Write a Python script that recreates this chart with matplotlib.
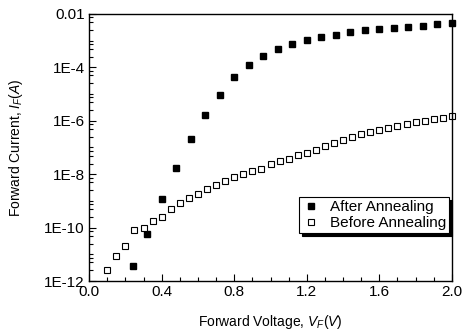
import numpy as np
import matplotlib
matplotlib.use('Agg')
import matplotlib.pyplot as plt
from matplotlib.ticker import FixedLocator, MultipleLocator, NullFormatter

plt.rcParams['font.family'] = ['Liberation Sans', 'DejaVu Sans']
plt.rcParams['mathtext.fontset'] = 'custom'
plt.rcParams['mathtext.rm'] = 'Liberation Sans'
plt.rcParams['mathtext.it'] = 'Liberation Sans:italic'

# after annealing (filled squares)
v_after = [0.24, 0.32, 0.40, 0.48, 0.56, 0.64, 0.72, 0.80, 0.88, 0.96, 1.04, 1.12,
           1.20, 1.28, 1.36, 1.44, 1.52, 1.60, 1.68, 1.76, 1.84, 1.92, 2.00]
i_after = [3.6e-12, 6e-11, 1.2e-9, 1.7e-8, 2.1e-7, 1.66e-6, 9.3e-6, 4.4e-5, 1.2e-4,
           2.7e-4, 4.9e-4, 7.5e-4, 1.07e-3, 1.4e-3, 1.6e-3, 2.1e-3, 2.5e-3, 2.75e-3,
           2.9e-3, 3.3e-3, 3.6e-3, 4.1e-3, 4.5e-3]

# before annealing (open squares)
v_before = [0.10, 0.15, 0.20, 0.25, 0.30, 0.35, 0.40, 0.45, 0.50, 0.55, 0.60, 0.65,
            0.70, 0.75, 0.80, 0.85, 0.90, 0.95, 1.00, 1.05, 1.10, 1.15, 1.20, 1.25,
            1.30, 1.35, 1.40, 1.45, 1.50, 1.55, 1.60, 1.65, 1.70, 1.75, 1.80, 1.85,
            1.90, 1.95, 2.00]
i_before = [2.6e-12, 8.7e-12, 2.1e-11, 8.3e-11, 9.8e-11, 1.8e-10, 2.6e-10, 5e-10,
            8.3e-10, 1.3e-9, 1.8e-9, 2.8e-9, 3.8e-9, 5.7e-9, 7.6e-9, 1e-8, 1.3e-8,
            1.6e-8, 2.4e-8, 3e-8, 3.7e-8, 5.2e-8, 6.4e-8, 8.3e-8, 1.15e-7, 1.41e-7,
            1.9e-7, 2.45e-7, 3.1e-7, 3.8e-7, 4.5e-7, 5.4e-7, 6.4e-7, 7.4e-7, 8.8e-7,
            1.0e-6, 1.14e-6, 1.32e-6, 1.52e-6]

x_ticks = [0, 0.4, 0.8, 1.2, 1.6, 2.0]
x_labels = ['0.0', '0.4', '0.8', '1.2', '1.6', '2.0']
y_ticks = [1e-2, 1e-4, 1e-6, 1e-8, 1e-10, 1e-12]
y_labels = ['0.01', '1E-4', '1E-6', '1E-8', '1E-10', '1E-12']

fig = plt.figure(figsize=(4.62, 3.31), dpi=100)
ax = fig.add_axes([0.193, 0.151, 0.785, 0.807])

ax.plot(v_after, i_after, 's', color='black', markersize=4.6, linestyle='none',
        label='After Annealing', clip_on=False)
ax.plot(v_before, i_before, 's', markerfacecolor='white', markeredgecolor='black',
        markeredgewidth=0.8, markersize=4.2, linestyle='none',
        label='Before Annealing', clip_on=False)

ax.set_yscale('log')
ax.set_xlim(0, 2.0)
ax.set_ylim(1e-12, 1e-2)

ax.set_xticks(x_ticks)
ax.set_xticklabels(x_labels)
ax.xaxis.set_minor_locator(MultipleLocator(0.1))

ax.yaxis.set_major_locator(FixedLocator(y_ticks))
ax.set_yticklabels(y_labels)
minors = []
for e in range(-12, -2):
    for s in (2.5, 5, 7.5):
        minors.append(s * 10.0 ** e)
    if e % 2 != 0:
        minors.append(10.0 ** e)
ax.yaxis.set_minor_locator(FixedLocator(minors))
ax.yaxis.set_minor_formatter(NullFormatter())

ax.tick_params(which='both', direction='in', top=False, right=False,
               labelsize=11, width=0.8)
ax.tick_params(which='major', length=5, pad=3)
ax.tick_params(which='minor', length=3)
for sp in ax.spines.values():
    sp.set_linewidth(1.0)

ax.set_xlabel(r'Forward Voltage, $\mathit{V_F(V)}$', fontsize=10, labelpad=10)
ax.set_ylabel(r'Forward Current, $\mathit{I_F(A)}$', fontsize=10, labelpad=14)

leg = ax.legend(loc='lower right', bbox_to_anchor=(0.992, 0.18), fontsize=11,
                frameon=True, fancybox=False, shadow={'color': 'black', 'alpha': 1},
                borderpad=0.2, handlelength=1.2, handletextpad=0.6,
                labelspacing=0.1, borderaxespad=0)
leg.get_frame().set_edgecolor('black')
leg.get_frame().set_linewidth(0.8)

fig.savefig('out.png', dpi=100)
